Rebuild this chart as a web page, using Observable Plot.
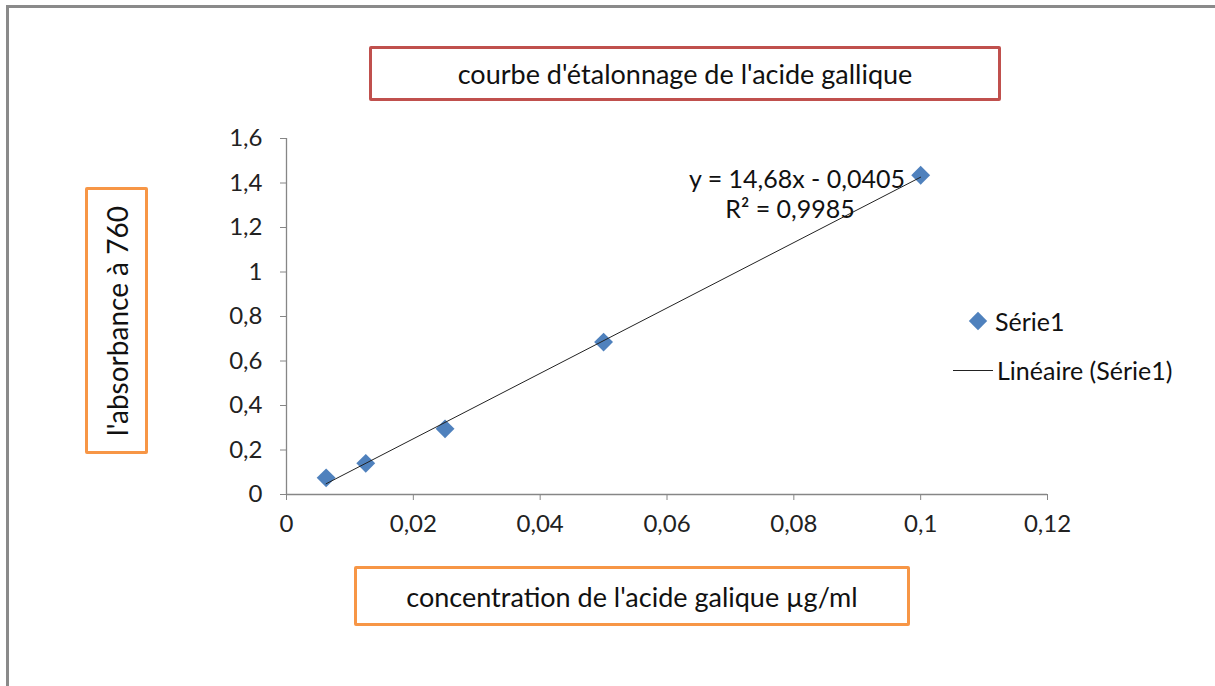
<!DOCTYPE html>
<html>
<head>
<meta charset="utf-8">
<script src="https://cdn.jsdelivr.net/npm/d3@7"></script>
<script src="https://cdn.jsdelivr.net/npm/@observablehq/plot@0.6"></script>
<style>
  html, body { margin: 0; padding: 0; background: #fff; }
  #page { position: relative; width: 1215px; height: 686px; overflow: hidden; font-family: Lato, "Open Sans", sans-serif; color: #111; }
  #page svg { position: absolute; left: 0; top: 0; }
  .frame { position: absolute; left: 6px; top: 5px; width: 1300px; height: 800px; border-left: 3px solid #8a8a8a; border-top: 3px solid #8a8a8a; }
  .box { position: absolute; box-sizing: border-box; display: flex; align-items: center; justify-content: center; background: #fff; border-radius: 2px; }
  #title { left: 369px; top: 46px; width: 632px; height: 55px; border: 3px solid #C0504D; font-size: 27px; }
  #ylab { left: 85px; top: 187px; width: 63px; height: 267px; border: 3px solid #F79646; }
  #ylab span { transform: rotate(-90deg); white-space: nowrap; font-size: 28px; }
  #xlab { left: 354px; top: 566px; width: 556px; height: 60px; border: 3px solid #F79646; font-size: 27px; }
  .ann { position: absolute; font-size: 25px; white-space: nowrap; transform: translate(-50%, -50%); }
  .leg { position: absolute; font-size: 25px; white-space: nowrap; transform: translateY(-50%); }
  .diam { position: absolute; width: 13px; height: 13px; background: #4F81BD; transform: translate(-50%, -50%) rotate(45deg); }
  .lline { position: absolute; height: 1px; background: #222; }
</style>
</head>
<body>
<div id="page">
  <div class="frame"></div>
</div>
<script>
// Data
const concentration = [0.00625, 0.0125, 0.025, 0.05, 0.1];
const absorbance = [0.075, 0.14, 0.295, 0.685, 1.435];
const xTicks = [0, 0.02, 0.04, 0.06, 0.08, 0.1, 0.12];
const yTicks = [0, 0.2, 0.4, 0.6, 0.8, 1, 1.2, 1.4, 1.6];
const titleText = "courbe d'étalonnage de l'acide gallique";
const xLabelText = "concentration de l'acide galique µg/ml";
const yLabelText = "l'absorbance à 760";
const equationText = "y = 14,68x - 0,0405";
const r2Text = "R² = 0,9985";
const seriesName = "Série1";
const trendName = "Linéaire (Série1)";

const data = concentration.map((c, i) => ({x: c, y: absorbance[i]}));
const fmt = d => String(d).replace(".", ",");
const axisColor = "#868686";

const chart = Plot.plot({
  width: 1215,
  height: 686,
  marginLeft: 286,
  marginRight: 168,
  marginTop: 138,
  marginBottom: 192,
  style: { fontFamily: "Lato, 'Open Sans', sans-serif", fontSize: "24px", color: "#222", background: "transparent" },
  x: { domain: [0, 0.12], ticks: xTicks, tickFormat: fmt, label: null },
  y: { domain: [0, 1.6], ticks: yTicks, tickFormat: fmt, label: null },
  marks: [
    Plot.axisX({ ticks: xTicks, tickFormat: fmt, tickSize: 6, tickPadding: 14, stroke: axisColor, label: null }),
    Plot.axisY({ ticks: yTicks, tickFormat: fmt, tickSize: 6, tickPadding: 18, stroke: axisColor, label: null }),
    Plot.ruleY([0], { stroke: axisColor, strokeWidth: 1.3 }),
    Plot.ruleX([0], { stroke: axisColor, strokeWidth: 1.3 }),
    Plot.dot(data, { x: "x", y: "y", symbol: "diamond2", r: 8.5, fill: "#4F81BD", stroke: "none" }),
    Plot.linearRegressionY(data, { x: "x", y: "y", ci: 0, stroke: "#222", strokeWidth: 1 })
  ]
});
const page = document.getElementById("page");
page.appendChild(chart);

function add(html) { page.insertAdjacentHTML("beforeend", html); }
add(`<div class="box" id="title">${titleText}</div>`);
add(`<div class="box" id="ylab"><span>${yLabelText}</span></div>`);
add(`<div class="box" id="xlab">${xLabelText}</div>`);
add(`<div class="ann" style="left:797px;top:178px">${equationText}</div>`);
add(`<div class="ann" style="left:790px;top:208px">${r2Text}</div>`);
add(`<div class="diam" style="left:978px;top:321px"></div>`);
add(`<div class="leg" style="left:995px;top:321px">${seriesName}</div>`);
add(`<div class="lline" style="left:953px;top:370px;width:40px"></div>`);
add(`<div class="leg" style="left:997px;top:370px">${trendName}</div>`);
</script>
</body>
</html>
